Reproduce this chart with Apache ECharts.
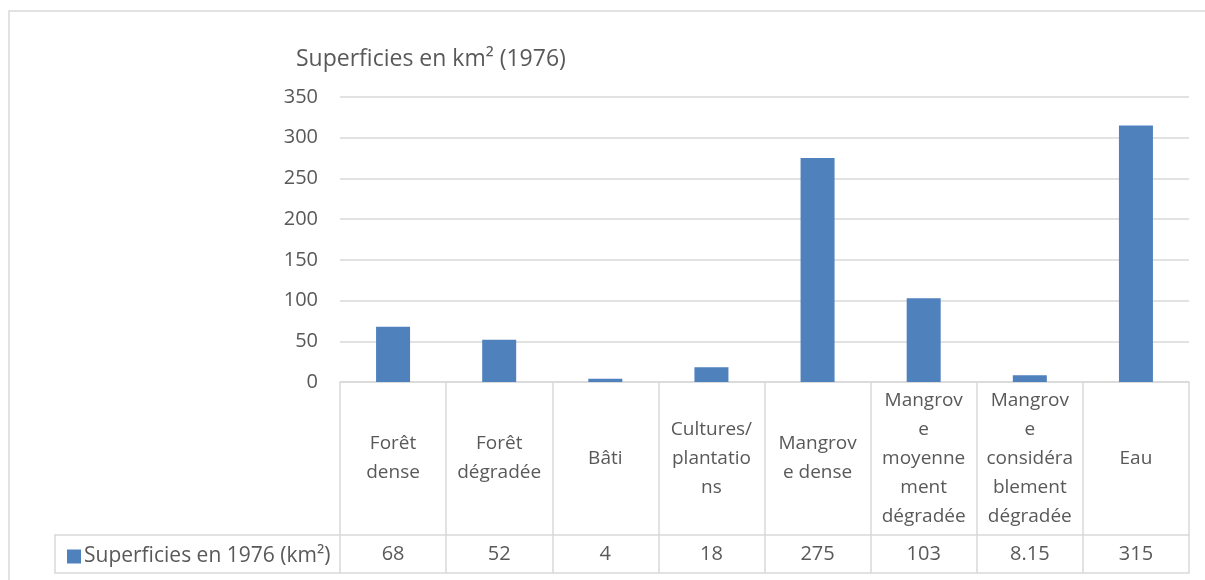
<!DOCTYPE html>
<html>
<head>
<meta charset="utf-8">
<script src="https://cdn.jsdelivr.net/npm/echarts@6/dist/echarts.min.js"></script>
<style>
  html, body { margin: 0; padding: 0; background: #fff; }
  #chart { width: 1205px; height: 580px; }
</style>
</head>
<body>
<div id="chart"></div>
<script>
// Land-cover classes (labels wrap as in the data table)
const categories = [
  'Forêt\ndense',
  'Forêt\ndégradée',
  'Bâti',
  'Cultures/\nplantatio\nns',
  'Mangrov\ne dense',
  'Mangrov\ne\nmoyenne\nment\ndégradée',
  'Mangrov\ne\nconsidéra\nblement\ndégradée',
  'Eau'
];
// Areas in km² for 1976
const areas1976 = [68, 52, 4, 18, 275, 103, 8.15, 315];
const yTicks = { min: 0, max: 350, interval: 50 };
const seriesName = 'Superficies en 1976 (km²)';
const chartTitle = 'Superficies en km² (1976)';

const FONT = 'Open Sans';
const TEXT = '#595959';
const LINE = '#d9d9d9';

// Layout of plot area and the data table under it
const W = 1205, H = 580;
const plotLeft = 340, plotRight = 1189, plotTop = 97, plotBottom = 382;
const rowSplit = 535, tableBottom = 573, legendCellLeft = 55;

const chart = echarts.init(document.getElementById('chart'), null, { renderer: 'canvas' });

chart.setOption({
  animation: false,
  textStyle: { fontFamily: FONT },
  title: {
    text: chartTitle,
    left: 291,
    top: 43,
    textStyle: { fontFamily: FONT, fontSize: 23, fontWeight: 'normal', color: TEXT }
  },
  legend: {
    left: 62,
    top: 541,
    icon: 'rect',
    itemWidth: 14,
    itemHeight: 14,
    itemGap: 4,
    textStyle: { fontFamily: FONT, fontSize: 21, color: TEXT, padding: [0, 0, 0, -2] },
    data: [seriesName]
  },
  grid: {
    left: plotLeft,
    right: W - plotRight,
    top: plotTop,
    bottom: H - plotBottom,
    containLabel: false
  },
  xAxis: [
    {
      type: 'category',
      data: categories,
      position: 'bottom',
      axisLine: { show: true, lineStyle: { color: LINE, width: 1.5 } },
      axisTick: { show: true, length: tableBottom - plotBottom, lineStyle: { color: LINE, width: 1.5 } },
      axisLabel: {
        interval: 0,
        margin: (rowSplit - plotBottom) / 2,
        verticalAlign: 'middle',
        lineHeight: 29,
        fontFamily: FONT,
        fontSize: 19,
        color: TEXT
      }
    },
    {
      type: 'category',
      data: areas1976.map(v => String(v)),
      position: 'bottom',
      offset: rowSplit - plotBottom,
      axisLine: { show: true, lineStyle: { color: LINE, width: 1.5 } },
      axisTick: { show: false },
      axisLabel: {
        interval: 0,
        margin: (tableBottom - rowSplit) / 2,
        verticalAlign: 'middle',
        fontFamily: FONT,
        fontSize: 20,
        color: TEXT
      }
    },
    {
      type: 'category',
      data: categories.map(() => ''),
      position: 'bottom',
      offset: tableBottom - plotBottom,
      axisLine: { show: true, lineStyle: { color: LINE, width: 1.5 } },
      axisTick: { show: false },
      axisLabel: { show: false }
    }
  ],
  yAxis: {
    type: 'value',
    min: yTicks.min,
    max: yTicks.max,
    interval: yTicks.interval,
    axisLine: { show: false },
    axisTick: { show: false },
    axisLabel: { margin: 22, fontFamily: FONT, fontSize: 20, color: TEXT },
    splitLine: { lineStyle: { color: LINE, width: 1.5 } }
  },
  series: [
    {
      name: seriesName,
      type: 'bar',
      xAxisIndex: 0,
      data: areas1976,
      barWidth: 34,
      itemStyle: { color: '#4f81bd' }
    }
  ],
  graphic: [
    // chart frame
    {
      type: 'rect',
      shape: { x: 9, y: 11, width: W + 10, height: H + 10 },
      style: { fill: 'none', stroke: LINE, lineWidth: 1.5 },
      silent: true
    },
    // legend cell of the data table
    {
      type: 'polyline',
      shape: { points: [[plotLeft, rowSplit], [legendCellLeft, rowSplit], [legendCellLeft, tableBottom], [plotLeft, tableBottom]] },
      style: { fill: 'none', stroke: LINE, lineWidth: 1.5 },
      silent: true
    }
  ]
});
</script>
</body>
</html>
